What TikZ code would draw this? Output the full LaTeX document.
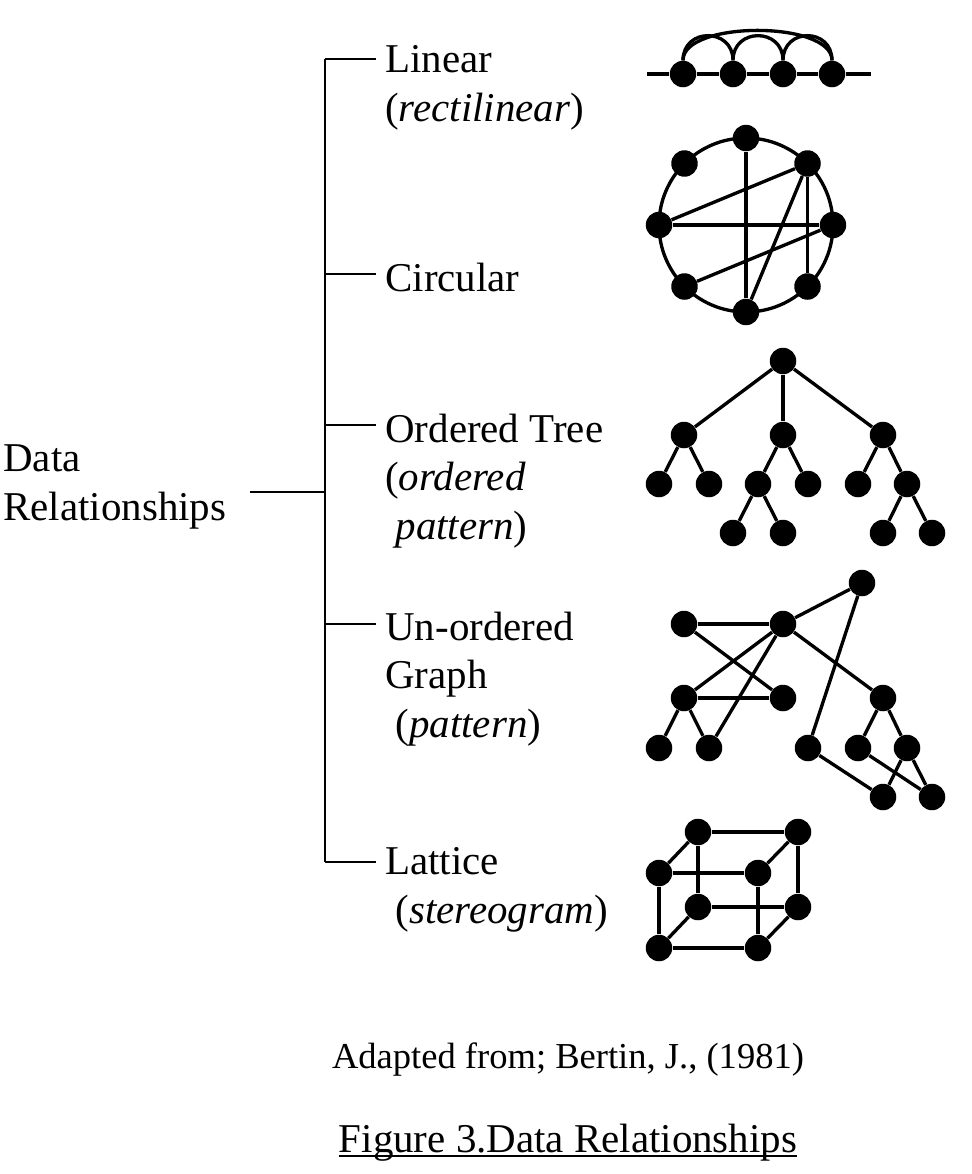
\documentclass[tikz,border=0pt]{standalone}
\usepackage{fontspec}
\setmainfont{Liberation Serif}
\usetikzlibrary{calc}

\tikzset{
  dot/.style={circle, fill, inner sep=0pt, minimum size=0.53cm},
  link/.style={line width=1.9pt},
  bar/.style={line width=1.6pt},
  lbl/.style={anchor=base west, align=left, inner sep=0pt,
    font=\fontsize{23.3}{27.6}\selectfont},
  captext/.style={anchor=base, inner sep=0pt}
}

\begin{document}
\begin{tikzpicture}[x=0.02cm, y=-0.02cm]
\useasboundingbox (0,0) rectangle (972,1174);

% labels (base = last line)
\node[lbl] (data) at (3,520) {Data\\Relationships};
\node[lbl] (linear) at (385,121) {Linear\\(\textit{rectilinear})};
\node[lbl] (circular) at (385,291) {Circular};
\node[lbl] (tree) at (385,539) {Ordered Tree\\(\textit{ordered}\\\hspace*{0.25em}\textit{pattern})};
\node[lbl] (graph) at (385,737) {Un-ordered\\Graph\\\hspace*{0.25em}(\textit{pattern})};
\node[lbl] (lattice) at (385,923) {Lattice\\\hspace*{0.25em}(\textit{stereogram})};

% bracket
\coordinate (kd) at (325,492);
\foreach \n/\y in {linear/59, circular/274, tree/425, graph/624, lattice/862}
  \coordinate (k-\n) at (325,\y);
\draw[bar] (k-linear) -- (k-lattice);
\draw[bar] (kd) -- ++(-75,0);
\foreach \n in {linear, circular, tree, graph, lattice}
  \draw[bar] (k-\n) -- ++(51,0);

% linear
\coordinate (ll) at (647,74);
\coordinate (lr) at (871,74);
\foreach \x [count=\i] in {683,733,783,832}
  \node[dot] (l\i) at (\x,74) {};
\draw[link] (ll) -- (l1) -- (l2) -- (l3) -- (l4) -- (lr);
\foreach \i/\j in {1/2, 2/3, 3/4}
  \draw[link] (l\i.north) .. controls +(0,-33) and +(0,-33) .. (l\j.north);
\draw[link] (l1.north) .. controls +(0,-40) and +(0,-40) .. (l4.north);

% circular
\coordinate (cc) at (746,225);
\draw[link] (cc) circle[radius=1.74cm];
\foreach \a [count=\i] in {90,45,0,-45,-90,-135,180,135}
  \node[dot] (c\i) at ($(cc)+(\a:1.74cm)$) {};
\foreach \i/\j in {1/5, 2/7, 7/3, 3/6, 2/5, 2/4}
  \draw[link] (c\i) -- (c\j);

% ordered tree
\node[dot] (t0) at (783,361) {};
\node[dot] (t1) at (684,435) {};
\node[dot] (t2) at (783,435) {};
\node[dot] (t3) at (883,435) {};
\node[dot] (t11) at (659,484) {};
\node[dot] (t12) at (709,484) {};
\node[dot] (t21) at (758,484) {};
\node[dot] (t22) at (808,484) {};
\node[dot] (t31) at (858,484) {};
\node[dot] (t32) at (907,484) {};
\node[dot] (t211) at (733,533) {};
\node[dot] (t212) at (783,533) {};
\node[dot] (t321) at (883,533) {};
\node[dot] (t322) at (932,533) {};
\foreach \a/\b in {t0/t1, t0/t2, t0/t3, t1/t11, t1/t12, t2/t21, t2/t22,
    t3/t31, t3/t32, t21/t211, t21/t212, t32/t321, t32/t322}
  \draw[link] (\a) -- (\b);

% un-ordered graph
\node[dot] (ua) at (684,624) {};
\node[dot] (ub) at (783,624) {};
\node[dot] (uc) at (862,583) {};
\node[dot] (ud) at (684,698) {};
\node[dot] (ue) at (783,698) {};
\node[dot] (uf) at (883,698) {};
\node[dot] (ug) at (659,748) {};
\node[dot] (uh) at (709,748) {};
\node[dot] (ui) at (808,748) {};
\node[dot] (uj) at (858,748) {};
\node[dot] (uk) at (907,748) {};
\node[dot] (ul) at (883,797) {};
\node[dot] (um) at (932,797) {};
\foreach \a/\b in {ua/ub, ua/ue, ub/uc, ub/ud, ub/uh, ub/uf, uc/ui, ud/ue,
    ud/ug, ud/uh, uf/uj, uf/uk, ui/ul, uj/um, uk/ul, uk/um}
  \draw[link] (\a) -- (\b);

% lattice
\node[dot] (la1) at (698,832) {};
\node[dot] (la2) at (798,832) {};
\node[dot] (la3) at (659,873) {};
\node[dot] (la4) at (758,873) {};
\node[dot] (la5) at (698,907) {};
\node[dot] (la6) at (798,907) {};
\node[dot] (la7) at (659,948) {};
\node[dot] (la8) at (758,948) {};
\foreach \a/\b in {1/2, 3/4, 5/6, 7/8, 1/5, 2/6, 3/7, 4/8, 1/3, 2/4, 5/7, 6/8}
  \draw[link] (la\a) -- (la\b);

% captions
\node[captext, font=\fontsize{20.8}{25}\selectfont] (src) at (568,1068)
  {Adapted from; Bertin, J., (1981)};
\node[captext, font=\fontsize{23.3}{28}\selectfont] (fig) at (568,1152)
  {Figure 3.Data Relationships};
\draw[line width=1.2pt] ([yshift=-0.08cm]fig.base west) -- ([yshift=-0.08cm]fig.base east);
\end{tikzpicture}
\end{document}
